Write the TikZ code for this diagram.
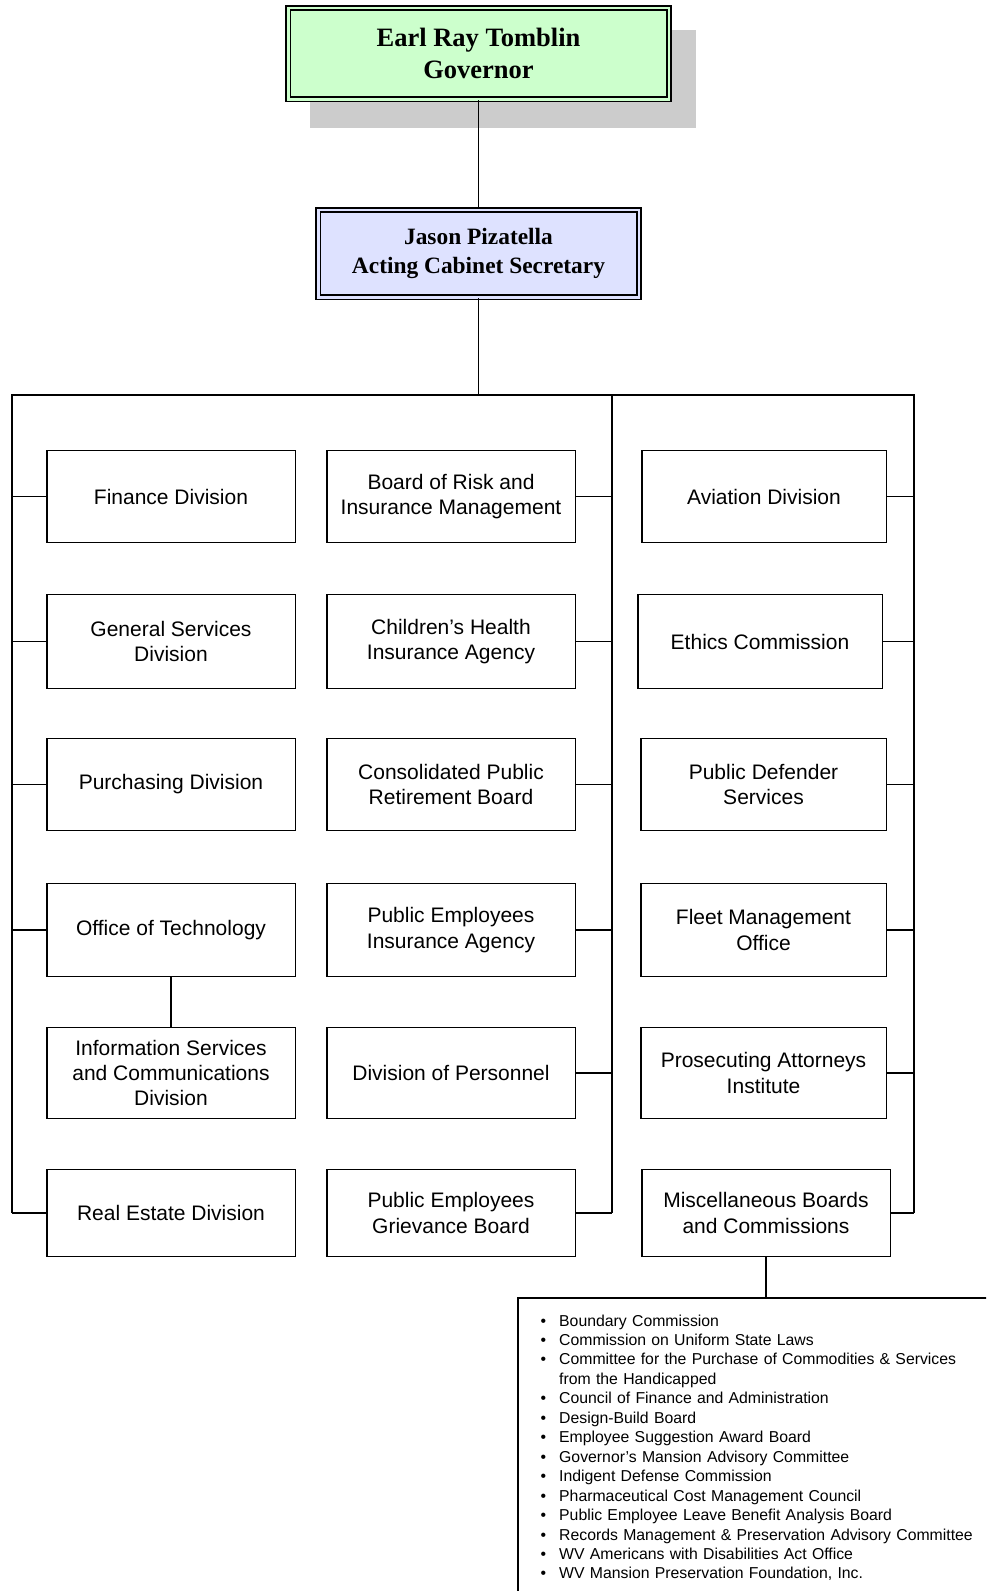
\documentclass[tikz,border=0pt]{standalone}
\usepackage{fontspec}
\setmainfont{Liberation Sans}
\newfontfamily\headfont{Liberation Serif}
\definecolor{govgreen}{RGB}{204,255,204}
\definecolor{secblue}{RGB}{222,226,255}
\definecolor{shadowgray}{RGB}{204,204,204}
\newcommand\blt{\leavevmode\llap{\textbullet\hspace{13pt}}}
\tikzset{
  head/.style={draw, line width=1.6pt, double distance=2.5pt, align=center},
  unit/.style={draw, line width=1.5pt, align=center, inner sep=2pt,
    font=\fontsize{21}{25.4}\selectfont},
  r1/.style={minimum height=92pt},
  r2/.style={minimum height=94pt},
  r3/.style={minimum height=92pt},
  r4/.style={minimum height=93pt},
  r5/.style={minimum height=91pt},
  r6/.style={minimum height=87pt},
  bus/.style={line width=2.2pt},
  link/.style={line width=1.8pt},
}
\begin{document}
\begin{tikzpicture}[x=1pt,y=-1pt]
  \useasboundingbox (0,0) rectangle (986,1591);
  \clip (0,0) rectangle (986,1591);
  % governor and secretary
  \fill[shadowgray] (310,30) rectangle (696,128);
  \node[head, fill=govgreen, double=govgreen, minimum width=380.5pt, minimum height=91.5pt,
    font=\headfont\bfseries\fontsize{26.5}{31.5}\selectfont] (gov) at (478.5,53.5) {Earl Ray Tomblin\\Governor};
  \node[head, fill=secblue, double=secblue, minimum width=320.5pt, minimum height=87.5pt,
    font=\headfont\bfseries\fontsize{23.4}{28.4}\selectfont] (sec) at (478.5,253.5) {Jason Pizatella\\Acting Cabinet Secretary};
  % left column
  \node[unit, r1, minimum width=248.5pt] (finance) at (171,496.5) {Finance Division};
  \node[unit, r2, minimum width=248.5pt] (general) at (171,641.5) {General Services\\Division};
  \node[unit, r3, minimum width=248.5pt] (purchasing) at (171,784.5) {Purchasing Division};
  \node[unit, r4, minimum width=248.5pt] (tech) at (171,930) {Office of Technology};
  \node[unit, r5, minimum width=248.5pt] (infoserv) at (171,1073) {Information Services\\and Communications\\Division};
  \node[unit, r6, minimum width=248.5pt] (realestate) at (171,1213) {Real Estate Division};
  % middle column
  \node[unit, r1, minimum width=248.5pt] (risk) at (451,496.5) {Board of Risk and\\Insurance Management};
  \node[unit, r2, minimum width=248.5pt] (chip) at (451,641.5) {Children’s Health\\Insurance Agency};
  \node[unit, r3, minimum width=248.5pt] (cprb) at (451,784.5) {Consolidated Public\\Retirement Board};
  \node[unit, r4, minimum width=248.5pt] (peia) at (451,930) {Public Employees\\Insurance Agency};
  \node[unit, r5, minimum width=248.5pt] (personnel) at (451,1073) {Division of Personnel};
  \node[unit, r6, minimum width=248.5pt] (grievance) at (451,1213) {Public Employees\\Grievance Board};
  % right column
  \node[unit, r1, minimum width=244.5pt] (aviation) at (764,496.5) {Aviation Division};
  \node[unit, r2, minimum width=244.5pt] (ethics) at (760,641.5) {Ethics Commission};
  \node[unit, r3, minimum width=245.5pt] (defender) at (763.5,784.5) {Public Defender\\Services};
  \node[unit, r4, minimum width=245.5pt] (fleet) at (763.5,930) {Fleet Management\\Office};
  \node[unit, r5, minimum width=245.5pt] (prosecutors) at (763.5,1073) {Prosecuting Attorneys\\Institute};
  \node[unit, r6, minimum width=248.5pt] (misc) at (766,1213) {Miscellaneous Boards\\and Commissions};
  % boards list
  \node[draw, line width=1.5pt, anchor=north west, minimum width=500pt, minimum height=320pt] (listbox) at (517,1297) {};
  \node[anchor=base west, text width=430pt, align=left, inner sep=0pt,
    font=\fontsize{15.8}{19.46}\selectfont] (boardlist) at (559,1326) {%
    \blt Boundary Commission\\
    \blt Commission on Uniform State Laws\\
    \blt Committee for the Purchase of Commodities \& Services\\
    from the Handicapped\\
    \blt Council of Finance and Administration\\
    \blt Design-Build Board\\
    \blt Employee Suggestion Award Board\\
    \blt Governor’s Mansion Advisory Committee\\
    \blt Indigent Defense Commission\\
    \blt Pharmaceutical Cost Management Council\\
    \blt Public Employee Leave Benefit Analysis Board\\
    \blt Records Management \& Preservation Advisory Committee\\
    \blt WV Americans with Disabilities Act Office\\
    \blt WV Mansion Preservation Foundation, Inc.};
  % bus lines
  \coordinate (lt) at (12,395);
  \coordinate (ct) at (478.5,395);
  \coordinate (mt) at (612,395);
  \coordinate (rt) at (914,395);
  \draw[link] (gov) -- (sec);
  \draw[link] (sec) -- (ct);
  \draw[bus] (realestate.west -| lt) -- (lt) -- (rt) -- (misc.east -| rt);
  \draw[bus] (mt) -- (grievance.east -| mt);
  \foreach \n in {finance,general,purchasing,tech,realestate}
    \draw[link] (\n.west) -- (\n.west -| lt);
  \foreach \n in {risk,chip,cprb,peia,personnel,grievance}
    \draw[link] (\n.east) -- (\n.east -| mt);
  \foreach \n in {aviation,ethics,defender,fleet,prosecutors,misc}
    \draw[link] (\n.east) -- (\n.east -| rt);
  \draw[link] (tech) -- (infoserv);
  \draw[link] (misc) -- (misc.south |- listbox.north);
\end{tikzpicture}
\end{document}
